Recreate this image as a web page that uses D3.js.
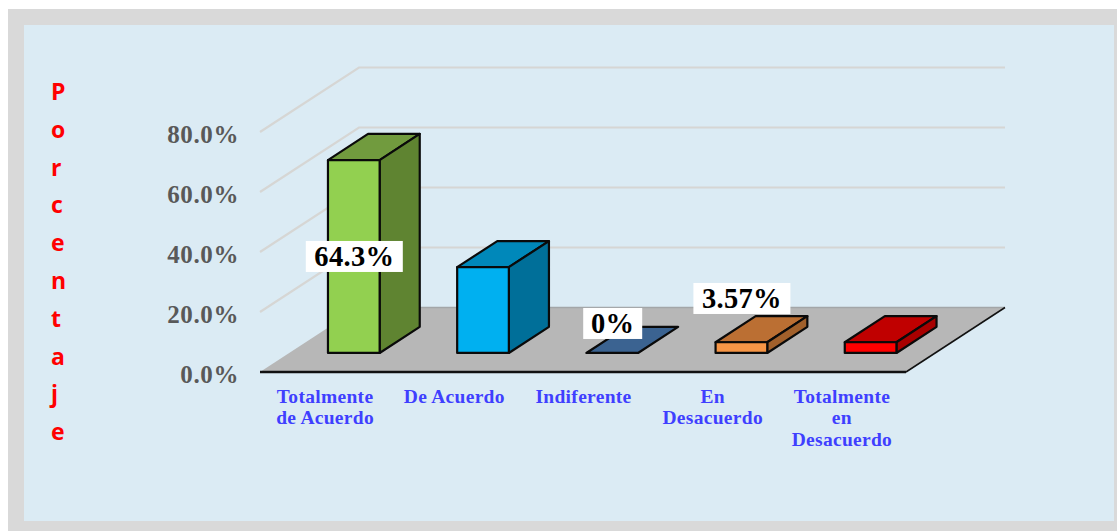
<!DOCTYPE html>
<meta charset="utf-8">
<script src="https://d3js.org/d3.v7.min.js"></script>
<style>
  html, body { margin: 0; padding: 0; background: #fff; overflow: hidden; }
  svg { display: block; }
  .tick text { font-family: 'Liberation Serif', serif; font-weight: bold; font-size: 25px; fill: #595959; letter-spacing: .6px; }
</style>
<div id="my_dataviz"></div>
<script>

// data
var categories = ["Totalmente de Acuerdo", "De Acuerdo", "Indiferente", "En Desacuerdo", "Totalmente en Desacuerdo"];
var categoryLines = [["Totalmente", "de Acuerdo"], ["De Acuerdo"], ["Indiferente"], ["En", "Desacuerdo"], ["Totalmente", "en", "Desacuerdo"]];
var values = [64.3, 28.6, 0, 3.57, 3.57];
var valueLabels = ["64.3%", null, "0%", "3.57%", null];
var yTicks = [0, 20, 40, 60, 80];
var axisTitle = "Porcentaje";

// colours per bar: front, top, side
var frontColors = ["#92D050", "#00B0F0", "#3B6391", "#F79646", "#FF0000"];
var topColors = ["#719B3E", "#0088BA", "#3B6391", "#BB6F33", "#C00000"];
var sideColors = ["#5F8431", "#006F99", "#3B6391", "#A1602B", "#A80000"];

var width = 1117, height = 531;

var svg = d3.select("#my_dataviz").append("svg")
  .attr("width", width)
  .attr("height", height);

// frame
svg.append("rect").attr("x", 8).attr("y", 9).attr("width", width - 8).attr("height", height - 9).attr("fill", "#D9D9D9");
svg.append("rect").attr("x", 24).attr("y", 25).attr("width", 1090).attr("height", 496).attr("fill", "#DBEBF4");

// scales: x along the front edge, y up the wall, depth goes back into the floor
var x = d3.scaleBand().domain(categories).range([260, 906]).paddingInner(.6).paddingOuter(.3);
var xLabel = d3.scaleBand().domain(categories).range([260, 906]);
var y = d3.scaleLinear().domain([0, 80]).range([372, 132]);
var depthX = d3.scaleLinear().domain([0, 1]).range([0, 99]);
var depthY = d3.scaleLinear().domain([0, 1]).range([0, -64.5]);

// project a point of the 3d box onto the page
function pt(px, v, d) {
  return [px + depthX(d), y(v) + depthY(d)];
}
function poly(points) {
  return points.map(function(p) { return p.join(","); }).join(" ");
}

// gridlines on side wall and back wall
var xLeft = x.range()[0], xRight = x.range()[1];
svg.append("g").selectAll("polyline")
  .data(yTicks.slice(1))
  .enter()
  .append("polyline")
    .attr("points", function(d) { return poly([pt(xLeft, d, 0), pt(xLeft, d, 1), pt(xRight, d, 1)]); })
    .attr("fill", "none")
    .attr("stroke", "#D6D6D4")
    .attr("stroke-width", 2.2);

// floor
svg.append("polygon")
  .attr("points", poly([pt(xLeft, 0, 0), pt(xRight, 0, 0), pt(xRight, 0, 1), pt(xLeft, 0, 1)]))
  .attr("fill", "#B7B7B7");
svg.append("polyline")
  .attr("points", poly([pt(xLeft, 0, 1), pt(xRight, 0, 1)]))
  .attr("fill", "none").attr("stroke", "#A3A6A8").attr("stroke-width", 1.5);
svg.append("polyline")
  .attr("points", poly([pt(xRight, 0, 0), pt(xRight, 0, 1)]))
  .attr("fill", "none").attr("stroke", "#111").attr("stroke-width", 1.5);
svg.append("line")
  .attr("x1", xLeft).attr("x2", xRight).attr("y1", y(0)).attr("y2", y(0))
  .attr("stroke", "#111").attr("stroke-width", 2.5);

// y axis labels
var yAxis = svg.append("g")
  .attr("transform", "translate(" + xLeft + ",2)")
  .call(d3.axisLeft(y).tickValues(yTicks).tickSize(0).tickPadding(21).tickFormat(function(d) { return d3.format(".1f")(d) + "%"; }));
yAxis.select(".domain").remove();

// bars
var d0 = 0.295, d1 = 0.70;
var bars = svg.append("g").selectAll("g")
  .data(values)
  .enter()
  .append("g")
    .attr("stroke", "#0A0A0A")
    .attr("stroke-width", 2.2)
    .attr("stroke-linejoin", "round");

bars.each(function(v, i) {
  var g = d3.select(this);
  var a = x(categories[i]), b = a + x.bandwidth();
  g.append("polygon")
    .attr("points", poly([pt(a, v, d0), pt(b, v, d0), pt(b, v, d1), pt(a, v, d1)]))
    .attr("fill", topColors[i]);
  if (v > 0) {
    g.append("polygon")
      .attr("points", poly([pt(b, 0, d0), pt(b, 0, d1), pt(b, v, d1), pt(b, v, d0)]))
      .attr("fill", sideColors[i]);
    g.append("polygon")
      .attr("points", poly([pt(a, 0, d0), pt(b, 0, d0), pt(b, v, d0), pt(a, v, d0)]))
      .attr("fill", frontColors[i]);
  }
});

// value labels on white boxes, they were moved by hand in the original
var labelBoxes = [{dy: 96.5, w: 97}, null, {dy: 29.5, w: 59}, {dy: 54.5, w: 97}, null];
valueLabels.forEach(function(label, i) {
  if (!label) return;
  var c = pt(x(categories[i]) + x.bandwidth() / 2, 0, d0);
  var box = labelBoxes[i];
  var cy = c[1] - box.dy;
  svg.append("rect")
    .attr("x", c[0] - box.w / 2 + .5).attr("y", cy - 15.5)
    .attr("width", box.w).attr("height", 31)
    .attr("fill", "#fff");
  svg.append("text")
    .attr("x", c[0] + .5).attr("y", cy + 10)
    .attr("text-anchor", "middle")
    .style("font-family", "'Liberation Serif', serif")
    .style("font-weight", "bold")
    .style("font-size", "28.5px")
    .style("letter-spacing", ".3px")
    .attr("fill", "#000")
    .text(label);
});

// category labels
categories.forEach(function(c, i) {
  var cx = xLabel(c) + xLabel.bandwidth() / 2;
  svg.append("text")
    .attr("text-anchor", "middle")
    .style("font-family", "'Liberation Serif', serif")
    .style("font-weight", "bold")
    .style("font-size", "19.5px")
    .style("letter-spacing", ".3px")
    .attr("fill", "#3F3FFF")
    .selectAll("tspan")
    .data(categoryLines[i])
    .enter()
    .append("tspan")
      .attr("x", cx + .5)
      .attr("y", function(d, j) { return 403 + j * 21.3; })
      .text(function(d) { return d; });
});

// vertical axis title, one letter per row
svg.append("g").selectAll("text")
  .data(axisTitle.split(""))
  .enter()
  .append("text")
    .attr("x", 51)
    .attr("y", function(d, i) { return 100 + i * 37.8; })
    .style("font-family", "'Open Sans', sans-serif")
    .style("font-weight", "bold")
    .style("font-size", "23px")
    .attr("fill", "#FF0000")
    .text(function(d) { return d; });
</script>
